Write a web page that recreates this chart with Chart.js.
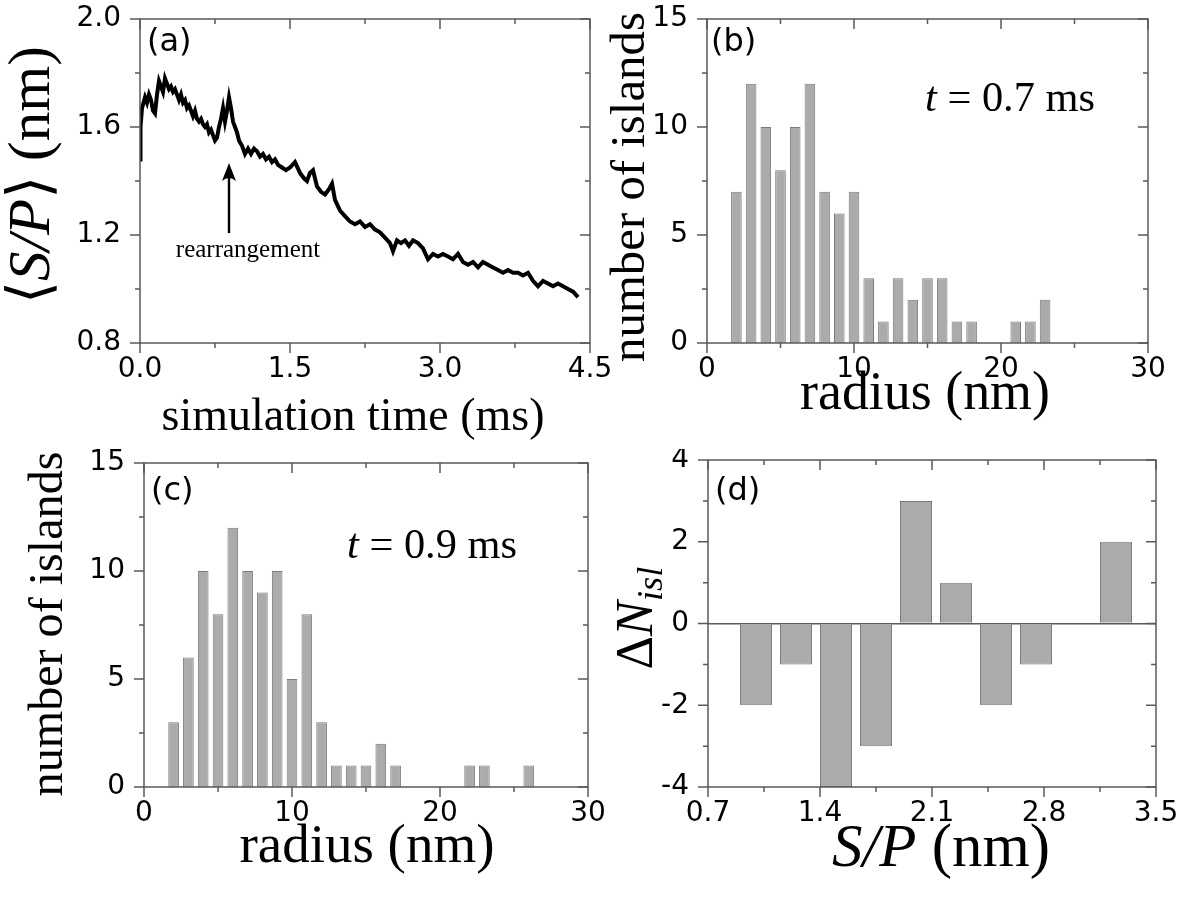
<!DOCTYPE html>
<html>
<head>
<meta charset="utf-8">
<script src="https://cdn.jsdelivr.net/npm/chart.js@4.4.0/dist/chart.umd.min.js"></script>
<style>
  body { margin: 0; background: #fff; }
  #wrap { position: relative; width: 1192px; height: 898px; }
  canvas { position: absolute; }
</style>
</head>
<body>
<div id="wrap">
  <canvas id="chartA" width="640" height="449" style="left:0;top:0"></canvas>
  <canvas id="chartB" width="596" height="449" style="left:596px;top:0"></canvas>
  <canvas id="chartC" width="640" height="449" style="left:0;top:449px"></canvas>
  <canvas id="chartD" width="596" height="449" style="left:596px;top:449px"></canvas>
</div>
<script>
// (a) mean S/P vs simulation time
const simTime = [
  0.00, 0.005, 0.02, 0.035, 0.05, 0.07, 0.09, 0.11, 0.13, 0.15,
  0.17, 0.19, 0.21, 0.23, 0.25, 0.27, 0.29, 0.31, 0.33, 0.35,
  0.37, 0.39, 0.41, 0.43, 0.45, 0.47, 0.49, 0.51, 0.53, 0.55,
  0.57, 0.59, 0.61, 0.63, 0.65, 0.67, 0.69, 0.71, 0.73, 0.75,
  0.77, 0.79, 0.81, 0.83, 0.85, 0.87, 0.89, 0.91, 0.93, 0.95,
  0.97, 0.99, 1.02, 1.05, 1.08, 1.11, 1.14, 1.17, 1.20, 1.23,
  1.26, 1.29, 1.32, 1.35, 1.38, 1.42, 1.46, 1.50, 1.55, 1.60,
  1.64, 1.67, 1.70, 1.73, 1.77, 1.81, 1.85, 1.89, 1.92, 1.95,
  2.00, 2.05, 2.10, 2.15, 2.20, 2.25, 2.30, 2.35, 2.40, 2.45,
  2.50, 2.53, 2.57, 2.61, 2.65, 2.69, 2.73, 2.78, 2.83, 2.88,
  2.93, 2.98, 3.03, 3.08, 3.13, 3.18, 3.23, 3.28, 3.33, 3.38,
  3.43, 3.48, 3.53, 3.58, 3.63, 3.68, 3.73, 3.78, 3.83, 3.88,
  3.93, 3.98, 4.03, 4.08, 4.13, 4.18, 4.23, 4.28, 4.33, 4.38
];
const meanSP = [
  1.48, 1.60, 1.67, 1.69, 1.71, 1.69, 1.72, 1.70, 1.66, 1.65,
  1.72, 1.77, 1.75, 1.73, 1.78, 1.76, 1.74, 1.75, 1.73, 1.74,
  1.72, 1.70, 1.72, 1.69, 1.70, 1.67, 1.68, 1.66, 1.64, 1.66,
  1.63, 1.62, 1.63, 1.61, 1.60, 1.61, 1.58, 1.59, 1.57, 1.55,
  1.56, 1.60, 1.63, 1.67, 1.62, 1.66, 1.71, 1.67, 1.62, 1.60,
  1.58, 1.55, 1.53, 1.50, 1.52, 1.50, 1.52, 1.51, 1.49, 1.50,
  1.48, 1.49, 1.47, 1.48, 1.46, 1.45, 1.44, 1.45, 1.47, 1.43,
  1.41, 1.40, 1.43, 1.44, 1.38, 1.36, 1.35, 1.37, 1.39, 1.33,
  1.29, 1.27, 1.25, 1.24, 1.25, 1.23, 1.24, 1.22, 1.21, 1.19,
  1.17, 1.14, 1.18, 1.17, 1.18, 1.16, 1.18, 1.17, 1.15, 1.11,
  1.13, 1.12, 1.13, 1.12, 1.11, 1.13, 1.10, 1.09, 1.10, 1.08,
  1.10, 1.09, 1.08, 1.07, 1.06, 1.07, 1.06, 1.06, 1.05, 1.06,
  1.03, 1.01, 1.03, 1.02, 1.01, 1.02, 1.01, 1.00, 0.99, 0.97
];

// (b) island radius histogram at t = 0.7 ms
const radiusB = [2, 3, 4, 5, 6, 7, 8, 9, 10, 11, 12, 13, 14, 15, 16, 17, 18, 21, 22, 23];
const islandsB = [7, 12, 10, 8, 10, 12, 7, 6, 7, 3, 1, 3, 2, 3, 3, 1, 1, 1, 1, 2];

// (c) island radius histogram at t = 0.9 ms
const radiusC = [2, 3, 4, 5, 6, 7, 8, 9, 10, 11, 12, 13, 14, 15, 16, 17, 22, 23, 26];
const islandsC = [3, 6, 10, 8, 12, 10, 9, 10, 5, 8, 3, 1, 1, 1, 2, 1, 1, 1, 1];

// (d) change in island number per S/P bin
const spBins = [1.0, 1.25, 1.5, 1.75, 2.0, 2.25, 2.5, 2.75, 3.0, 3.25];
const deltaIsl = [-2, -1, -4, -3, 3, 1, -2, -1, 0, 2];

// tick labels
const timeTicks = [0, 1.5, 3.0, 4.5];
const spTicks = [0.8, 1.2, 1.6, 2.0];
const radiusTicks = [0, 10, 20, 30];
const countTicks = [0, 5, 10, 15];
const binTicks = [0.7, 1.4, 2.1, 2.8, 3.5];
const deltaTicks = [-4, -2, 0, 2, 4];

const SANS = '"DejaVu Sans", "Liberation Sans", sans-serif';
const SERIF = '"Liberation Serif", "DejaVu Serif", serif';
const BAR_FILL = '#ababab';
const BAR_EDGE = '#7a7a7a';
const FRAME = '#5a5a5a';

function minorOf(major) {
  const out = [];
  for (let i = 0; i < major.length - 1; i++) out.push((major[i] + major[i + 1]) / 2);
  return out;
}

// frame box + inward/outward tick marks drawn via the chart's own scales
function framePlugin(xMajor, yMajor) {
  return {
    id: 'frame',
    afterDraw(chart) {
      const { ctx, chartArea: a, scales } = chart;
      ctx.save();
      ctx.strokeStyle = FRAME;
      ctx.lineWidth = 1.5;
      ctx.strokeRect(a.left, a.top, a.right - a.left, a.bottom - a.top);
      ctx.beginPath();
      const xm = minorOf(xMajor);
      const ym = minorOf(yMajor);
      xMajor.concat(xm).forEach((v, i) => {
        const len = i < xMajor.length ? 10 : 5;
        const px = scales.x.getPixelForValue(v);
        ctx.moveTo(px, a.bottom); ctx.lineTo(px, a.bottom + len);
        ctx.moveTo(px, a.top); ctx.lineTo(px, a.top + len);
      });
      yMajor.concat(ym).forEach((v, i) => {
        const len = i < yMajor.length ? 10 : 5;
        const py = scales.y.getPixelForValue(v);
        ctx.moveTo(a.left, py); ctx.lineTo(a.left - len, py);
        ctx.moveTo(a.right, py); ctx.lineTo(a.right - len, py);
      });
      ctx.stroke();
      ctx.restore();
    }
  };
}

// mixed-style text (italic math parts, subscripts), optionally fitted to a width
function textPlugin(items) {
  function fontFor(kind, size) {
    if (kind === 'sans') return size + 'px ' + SANS;
    if (kind === 'i') return 'italic ' + size + 'px ' + SERIF;
    if (kind === 'sub') return 'italic ' + (size * 0.7) + 'px ' + SERIF;
    return size + 'px ' + SERIF;
  }
  function width(ctx, parts, size) {
    let w = 0;
    parts.forEach(p => { ctx.font = fontFor(p[1], size); w += ctx.measureText(p[0]).width; });
    return w;
  }
  return {
    id: 'texts',
    afterDraw(chart) {
      const ctx = chart.ctx;
      items.forEach(it => {
        ctx.save();
        ctx.translate(it.x, it.y);
        if (it.rot) ctx.rotate(it.rot * Math.PI / 180);
        let size = it.size || 40;
        if (it.w) size = 40 * it.w / width(ctx, it.parts, 40);
        let x = it.align === 'left' ? 0 : -width(ctx, it.parts, size) / 2;
        ctx.fillStyle = '#000';
        ctx.textBaseline = 'middle';
        ctx.textAlign = 'left';
        it.parts.forEach(p => {
          ctx.font = fontFor(p[1], size);
          ctx.fillText(p[0], x, p[1] === 'sub' ? size * 0.28 : 0);
          x += ctx.measureText(p[0]).width;
        });
        ctx.restore();
      });
    }
  };
}

function fixedAxis(size, isY, ticks) {
  return {
    afterBuildTicks(s) { s.ticks = ticks.map(v => ({ value: v })); },
    afterFit(s) {
      if (isY) s.width = size; else s.height = size;
      s.paddingLeft = 0; s.paddingRight = 0; s.paddingTop = 0; s.paddingBottom = 0;
    }
  };
}

function axes(opt) {
  return {
    x: Object.assign({
      type: 'linear', min: opt.xTicks[0], max: opt.xTicks[opt.xTicks.length - 1],
      offset: false,
      grid: { display: false, drawTicks: false, offset: false },
      border: { display: false },
      ticks: { font: { family: SANS, size: 28 }, color: '#000', padding: 10, maxRotation: 0,
               autoSkip: false, callback: opt.xFmt }
    }, fixedAxis(opt.xH, false, opt.xTicks)),
    y: Object.assign({
      type: 'linear', min: opt.yTicks[0], max: opt.yTicks[opt.yTicks.length - 1],
      grid: opt.yGrid || { display: false, drawTicks: false },
      border: { display: false },
      ticks: { font: { family: SANS, size: 28 }, color: '#000', padding: 19,
               autoSkip: false, callback: opt.yFmt }
    }, fixedAxis(opt.yW, true, opt.yTicks))
  };
}

const baseOpts = {
  responsive: false,
  animation: false,
  plugins: { legend: { display: false }, tooltip: { enabled: false } }
};

function histogram(id, xs, ys, barPct, opt, texts) {
  return new Chart(document.getElementById(id), {
    type: 'bar',
    data: {
      datasets: [{
        data: xs.map((x, i) => ({ x: x, y: ys[i] })),
        backgroundColor: BAR_FILL,
        borderColor: BAR_EDGE,
        borderWidth: 1,
        barPercentage: barPct,
        categoryPercentage: 1.0
      }]
    },
    options: Object.assign({}, baseOpts, {
      layout: { padding: opt.pad },
      scales: axes(opt)
    }),
    plugins: [framePlugin(opt.xTicks, opt.yTicks), textPlugin(texts)]
  });
}

// arrow + "rearrangement" note, placed with the data scales
const arrowPlugin = {
  id: 'arrow',
  afterDraw(chart) {
    const { ctx, scales } = chart;
    const x = scales.x.getPixelForValue(0.89);
    const tip = scales.y.getPixelForValue(1.467);
    const tail = scales.y.getPixelForValue(1.207);
    ctx.save();
    ctx.strokeStyle = '#000';
    ctx.fillStyle = '#000';
    ctx.lineWidth = 2.4;
    ctx.beginPath();
    ctx.moveTo(x, tail); ctx.lineTo(x, tip + 10);
    ctx.stroke();
    ctx.beginPath();
    ctx.moveTo(x, tip);
    ctx.lineTo(x - 7, tip + 18);
    ctx.quadraticCurveTo(x, tip + 12, x + 7, tip + 18);
    ctx.closePath();
    ctx.fill();
    ctx.font = '25px ' + SERIF;
    ctx.textAlign = 'center';
    ctx.textBaseline = 'alphabetic';
    ctx.fillText('rearrangement', scales.x.getPixelForValue(1.08), scales.y.getPixelForValue(1.12));
    ctx.restore();
  }
};

window.onload = function () {
  const optA = {
    xTicks: timeTicks, yTicks: spTicks, xH: 106, yW: 140,
    pad: { top: 19, right: 50, left: 0, bottom: 0 },
    xFmt: v => v.toFixed(1), yFmt: v => v.toFixed(1)
  };
  new Chart(document.getElementById('chartA'), {
    type: 'line',
    data: {
      datasets: [{
        data: simTime.map((t, i) => ({ x: t, y: meanSP[i] })),
        borderColor: '#000',
        borderWidth: 4,
        pointRadius: 0,
        tension: 0,
        fill: false
      }]
    },
    options: Object.assign({}, baseOpts, {
      layout: { padding: optA.pad },
      scales: axes(optA)
    }),
    plugins: [framePlugin(timeTicks, spTicks), arrowPlugin, textPlugin([
      { x: 33, y: 175, rot: -90, w: 258,
        parts: [['\u27E8', 'r'], ['S/P', 'i'], ['\u27E9', 'r'], [' (nm)', 'r']] },
      { x: 353, y: 418, w: 383, parts: [['simulation time (ms)', 'r']] },
      { x: 147, y: 43, size: 32, align: 'left', parts: [['(a)', 'sans']] }
    ])]
  });

  histogram('chartB', radiusB, islandsB, 0.72, {
    xTicks: radiusTicks, yTicks: countTicks, xH: 106, yW: 111,
    pad: { top: 19, right: 44, left: 0, bottom: 0 },
    xFmt: v => String(v), yFmt: v => String(v)
  }, [
    { x: 35, y: 187, rot: -90, w: 350, parts: [['number of islands', 'r']] },
    { x: 329, y: 395, w: 250, parts: [['radius (nm)', 'r']] },
    { x: 115, y: 43, size: 32, align: 'left', parts: [['(b)', 'sans']] },
    { x: 414, y: 100, w: 170, parts: [['t', 'i'], [' = 0.7 ms', 'r']] }
  ]);

  histogram('chartC', radiusC, islandsC, 0.72, {
    xTicks: radiusTicks, yTicks: countTicks, xH: 111, yW: 144,
    pad: { top: 14, right: 52, left: 0, bottom: 0 },
    xFmt: v => String(v), yFmt: v => String(v)
  }, [
    { x: 49, y: 175, rot: -90, w: 345, parts: [['number of islands', 'r']] },
    { x: 367, y: 399, w: 255, parts: [['radius (nm)', 'r']] },
    { x: 151, y: 43, size: 32, align: 'left', parts: [['(c)', 'sans']] },
    { x: 432, y: 98, w: 170, parts: [['t', 'i'], [' = 0.9 ms', 'r']] }
  ]);

  histogram('chartD', spBins, deltaIsl, 0.8, {
    xTicks: binTicks, yTicks: deltaTicks, xH: 111, yW: 112,
    pad: { top: 11, right: 36, left: 0, bottom: 0 },
    xFmt: v => v.toFixed(1), yFmt: v => String(v),
    yGrid: {
      display: true, drawTicks: false, lineWidth: 1.5,
      color: c => (c.tick && c.tick.value === 0) ? FRAME : 'rgba(0,0,0,0)'
    }
  }, [
    { x: 42, y: 169, rot: -90, w: 103, parts: [['\u0394', 'r'], ['N', 'i'], ['isl', 'sub']] },
    { x: 345, y: 401, w: 218, parts: [['S/P', 'i'], [' (nm)', 'r']] },
    { x: 119, y: 43, size: 32, align: 'left', parts: [['(d)', 'sans']] }
  ]);
};
</script>
</body>
</html>
